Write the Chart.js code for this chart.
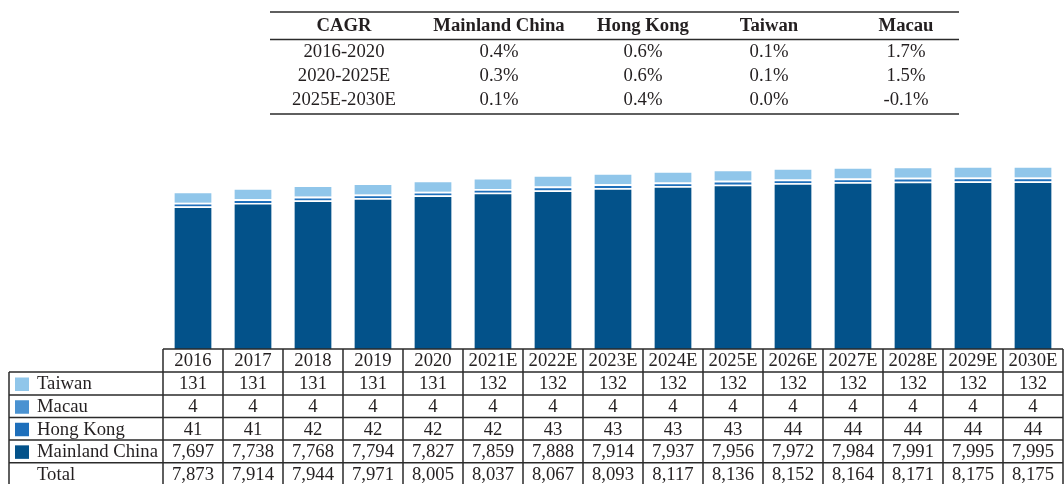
<!DOCTYPE html>
<html>
<head>
<meta charset="utf-8">
<script src="https://cdn.jsdelivr.net/npm/chart.js@4.4.1/dist/chart.umd.min.js"></script>
<style>
  html, body { margin: 0; padding: 0; background: #fff; }
  #wrap { position: relative; width: 1064px; height: 484px; }
</style>
</head>
<body>
<div id="wrap"><canvas id="chart" width="1064" height="484"></canvas></div>
<script>
// ---- data ----
const years = ['2016', '2017', '2018', '2019', '2020', '2021E', '2022E', '2023E', '2024E', '2025E', '2026E', '2027E', '2028E', '2029E', '2030E'];
const taiwan   = [131, 131, 131, 131, 131, 132, 132, 132, 132, 132, 132, 132, 132, 132, 132];
const macau    = [4, 4, 4, 4, 4, 4, 4, 4, 4, 4, 4, 4, 4, 4, 4];
const hongKong = [41, 41, 42, 42, 42, 42, 43, 43, 43, 43, 44, 44, 44, 44, 44];
const mainland = [7697, 7738, 7768, 7794, 7827, 7859, 7888, 7914, 7937, 7956, 7972, 7984, 7991, 7995, 7995];
const totals   = [7873, 7914, 7944, 7971, 8005, 8037, 8067, 8093, 8117, 8136, 8152, 8164, 8171, 8175, 8175];

const cagrHeaders  = ['CAGR', 'Mainland China', 'Hong Kong', 'Taiwan', 'Macau'];
const cagrPeriods  = ['2016-2020', '2020-2025E', '2025E-2030E'];
const cagrMainland = ['0.4%', '0.3%', '0.1%'];
const cagrHongKong = ['0.6%', '0.6%', '0.4%'];
const cagrTaiwan   = ['0.1%', '0.1%', '0.0%'];
const cagrMacau    = ['1.7%', '1.5%', '-0.1%'];

const COLORS = {
  mainland: '#03528a',
  hongKong: '#1e6fbb',
  macau: '#4a92d1',
  taiwan: '#90c6ea'
};
const INK = '#231f20';
const SERIF = '"Liberation Serif", "DejaVu Serif", serif';
const FONT_SIZE = '18.7px ';

const fmt = n => n.toLocaleString('en-US');

// ---- tables drawn onto the canvas ----
const tablesPlugin = {
  id: 'tables',
  afterDraw(chart) {
    const ctx = chart.ctx;
    const x = chart.scales.x;
    const colW = x.getPixelForValue(1) - x.getPixelForValue(0);
    const left = 9;
    const firstCol = x.getPixelForValue(0) - colW / 2;
    const right = x.getPixelForValue(years.length - 1) + colW / 2;
    const headTop = chart.chartArea.bottom;
    const rowLines = [372, 395, 417.5, 440, 462.7, 485];

    ctx.save();
    ctx.strokeStyle = '#2b2b2b';
    ctx.lineWidth = 1.5;

    // horizontal lines
    ctx.beginPath();
    ctx.moveTo(firstCol, headTop); ctx.lineTo(right, headTop);
    rowLines.forEach(y => { ctx.moveTo(left, y); ctx.lineTo(right, y); });
    // vertical lines
    ctx.moveTo(left, rowLines[0]); ctx.lineTo(left, 484);
    for (let i = 0; i <= years.length; i++) {
      const cx = firstCol + i * colW;
      ctx.moveTo(cx, headTop); ctx.lineTo(cx, 484);
    }
    ctx.stroke();

    ctx.fillStyle = INK;
    ctx.font = FONT_SIZE + SERIF;
    ctx.textBaseline = 'middle';
    ctx.textAlign = 'center';

    const rows = [
      { label: 'Taiwan', color: COLORS.taiwan, vals: taiwan },
      { label: 'Macau', color: COLORS.macau, vals: macau },
      { label: 'Hong Kong', color: COLORS.hongKong, vals: hongKong },
      { label: 'Mainland China', color: COLORS.mainland, vals: mainland },
      { label: 'Total', color: null, vals: totals }
    ];

    // year header
    years.forEach((yr, i) => {
      ctx.fillText(yr, x.getPixelForValue(i), (headTop + rowLines[0]) / 2 + 1);
    });

    rows.forEach((r, k) => {
      const cy = (rowLines[k] + rowLines[k + 1]) / 2 + 1;
      if (r.color) {
        ctx.fillStyle = r.color;
        ctx.fillRect(15, cy - 7, 14, 13.5);
      }
      ctx.fillStyle = INK;
      ctx.textAlign = 'left';
      ctx.fillText(r.label, 37, cy);
      ctx.textAlign = 'center';
      r.vals.forEach((v, i) => ctx.fillText(fmt(v), x.getPixelForValue(i), cy));
    });

    // CAGR table
    const cLeft = 270, cRight = 959;
    const cCols = [344, 499, 643, 769, 906];
    ctx.beginPath();
    ctx.moveTo(cLeft, 12); ctx.lineTo(cRight, 12);
    ctx.moveTo(cLeft, 39.5); ctx.lineTo(cRight, 39.5);
    ctx.moveTo(cLeft, 114); ctx.lineTo(cRight, 114);
    ctx.stroke();

    ctx.font = 'bold ' + FONT_SIZE + SERIF;
    cagrHeaders.forEach((h, i) => ctx.fillText(h, cCols[i], 26.5));
    ctx.font = FONT_SIZE + SERIF;
    const cagrCols = [cagrPeriods, cagrMainland, cagrHongKong, cagrTaiwan, cagrMacau];
    [52, 76, 100].forEach((cy, r) => {
      cagrCols.forEach((col, i) => ctx.fillText(col[r], cCols[i], cy));
    });
    ctx.restore();
  }
};

const segment = (label, data, color) => ({
  label,
  data,
  backgroundColor: color,
  borderColor: '#ffffff',
  borderWidth: { top: 1.5 },
  borderSkipped: false,
  categoryPercentage: 1,
  barPercentage: 0.62
});

new Chart(document.getElementById('chart'), {
  type: 'bar',
  data: {
    labels: years,
    datasets: [
      segment('Mainland China', mainland, COLORS.mainland),
      segment('Hong Kong', hongKong, COLORS.hongKong),
      segment('Macau', macau, COLORS.macau),
      segment('Taiwan', taiwan, COLORS.taiwan)
    ]
  },
  options: {
    responsive: false,
    animation: false,
    layout: { padding: { left: 163, right: 1, top: 139, bottom: 135 } },
    plugins: { legend: { display: false }, tooltip: { enabled: false } },
    scales: {
      x: { stacked: true, display: false },
      y: { stacked: true, display: false, min: 6000, max: 8500 }
    }
  },
  plugins: [tablesPlugin]
});
</script>
</body>
</html>
